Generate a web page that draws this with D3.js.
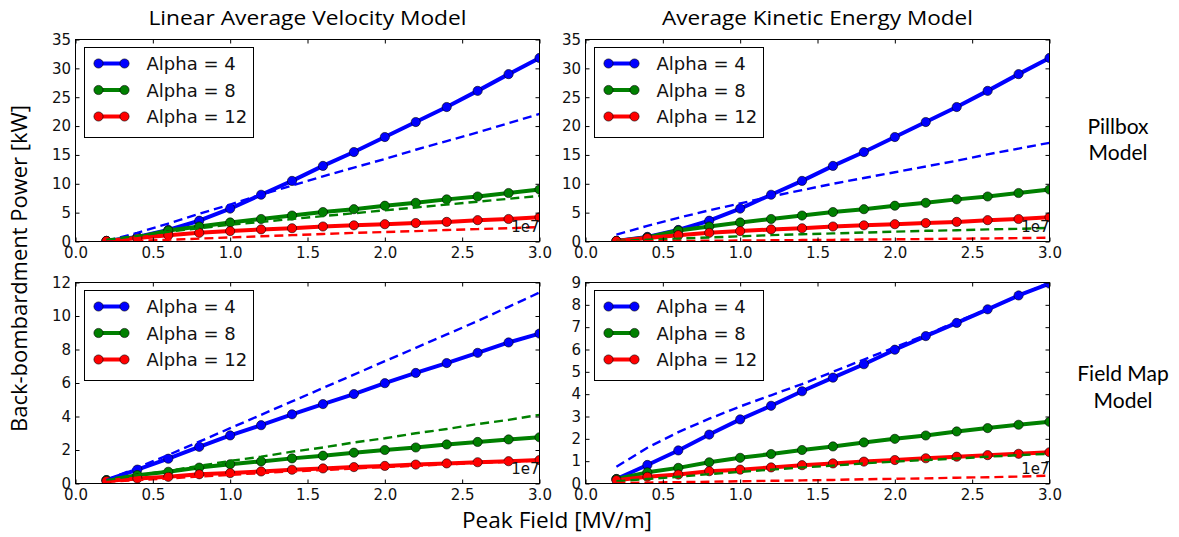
<!DOCTYPE html>
<html><head><meta charset="utf-8">
<script src="https://cdn.jsdelivr.net/npm/d3@7/dist/d3.min.js"></script>
<style>body{margin:0;background:#fff}svg{display:block}</style>
</head><body>
<svg id="chart" width="1179" height="537"></svg>
<script>
// ---------------- DATA ----------------
const peakField = [0.2,0.4,0.6,0.8,1.0,1.2,1.4,1.6,1.8,2.0,2.2,2.4,2.6,2.8,3.0]; // x 1e7 V/m
const xTickValues = [0.0,0.5,1.0,1.5,2.0,2.5,3.0];
const xTickLabels = ["0.0","0.5","1.0","1.5","2.0","2.5","3.0"];
const yTicksPillbox = [0,5,10,15,20,25,30,35];
const yTicksMapLinear = [0,2,4,6,8,10,12];
const yTicksMapKinetic = [0,1,2,3,4,5,6,7,8,9];
const columnTitles = ["Linear Average Velocity Model","Average Kinetic Energy Model"];
const rowLabels = [["Pillbox","Model"],["Field Map","Model"]];
const legendLabels = ["Alpha = 4","Alpha = 8","Alpha = 12"];
const xAxisLabel = "Peak Field [MV/m]";
const yAxisLabel = "Back-bombardment Power [kW]";
const offsetLabel = "1e7";

// simulated (solid, markers)
const pillboxA4  = [0.1,0.8,2.0,3.6,5.7,8.1,10.5,13.1,15.5,18.1,20.7,23.3,26.1,29.0,31.8];
const pillboxA8  = [0.1,0.7,1.9,2.6,3.3,3.9,4.5,5.1,5.6,6.2,6.7,7.3,7.8,8.4,9.0];
const pillboxA12 = [0.1,0.6,1.1,1.5,1.8,2.1,2.3,2.6,2.8,3.0,3.2,3.4,3.7,3.9,4.2];
const fieldMapA4  = [0.2,0.83,1.48,2.19,2.87,3.48,4.13,4.74,5.34,5.99,6.6,7.19,7.8,8.42,8.95];
const fieldMapA8  = [0.2,0.5,0.7,0.95,1.15,1.32,1.5,1.66,1.84,2.0,2.15,2.33,2.48,2.63,2.76];
const fieldMapA12 = [0.15,0.3,0.4,0.55,0.62,0.72,0.82,0.9,0.98,1.05,1.13,1.2,1.27,1.33,1.4];

// model predictions (dashed)
const linPillA4  = [0.1,1.5,3.1,4.8,6.4,8.1,9.7,11.3,12.8,14.3,15.9,17.4,18.9,20.5,22.1];
const linPillA8  = [0.3,1.0,1.7,2.3,2.9,3.4,3.9,4.4,4.9,5.4,5.9,6.4,6.9,7.4,7.9];
const linPillA12 = [0.0,0.1,0.3,0.5,0.7,0.9,1.1,1.3,1.5,1.65,1.8,2.0,2.15,2.3,2.5];
const kinPillA4  = [1.2,2.7,4.1,5.4,6.6,7.8,8.9,10.0,11.0,12.0,13.0,14.0,15.1,16.1,17.1];
const kinPillA8  = [0.1,0.3,0.5,0.7,0.9,1.1,1.25,1.4,1.55,1.7,1.85,1.95,2.1,2.2,2.35];
const kinPillA12 = [0.02,0.05,0.09,0.13,0.17,0.21,0.25,0.29,0.34,0.38,0.43,0.48,0.53,0.59,0.65];
const linMapA4  = [0.2,0.95,1.7,2.5,3.3,4.1,4.9,5.7,6.5,7.3,8.1,8.9,9.7,10.55,11.4];
const linMapA8  = [0.2,0.5,0.75,1.05,1.35,1.6,1.9,2.15,2.45,2.7,3.0,3.25,3.55,3.8,4.1];
const linMapA12 = [0.1,0.2,0.3,0.42,0.52,0.62,0.72,0.8,0.9,0.98,1.06,1.14,1.22,1.3,1.37];
const kinMapA4  = [0.75,1.6,2.3,2.9,3.45,3.95,4.45,5.0,5.55,6.1,6.65,7.25,7.8,8.4,9.0];
const kinMapA8  = [0.1,0.2,0.3,0.42,0.52,0.62,0.72,0.8,0.9,0.98,1.05,1.12,1.2,1.27,1.33];
const kinMapA12 = [0.02,0.04,0.06,0.08,0.1,0.12,0.14,0.16,0.19,0.21,0.23,0.26,0.28,0.31,0.35];

// ---------------- STYLE / LAYOUT ----------------
const seriesColors = ["#0000ff","#008000","#ff0000"];
const colX = [[75.5,539.5],[585.5,1049.5]];
const rowY = [[39.5,241.5],[282.5,483.5]];
const tickFont = "'DejaVu Sans', sans-serif";
const titleFont = "'Open Sans', sans-serif";
const rowFont = "Lato, 'Open Sans', sans-serif";

const panels = [
  {row:0,col:0,yMax:35,yTicks:yTicksPillbox,solid:[pillboxA4,pillboxA8,pillboxA12],dashed:[linPillA4,linPillA8,linPillA12]},
  {row:0,col:1,yMax:35,yTicks:yTicksPillbox,solid:[pillboxA4,pillboxA8,pillboxA12],dashed:[kinPillA4,kinPillA8,kinPillA12]},
  {row:1,col:0,yMax:12,yTicks:yTicksMapLinear,solid:[fieldMapA4,fieldMapA8,fieldMapA12],dashed:[linMapA4,linMapA8,linMapA12]},
  {row:1,col:1,yMax:9,yTicks:yTicksMapKinetic,solid:[fieldMapA4,fieldMapA8,fieldMapA12],dashed:[kinMapA4,kinMapA8,kinMapA12]}
];

const svg = d3.select("#chart");
const defs = svg.append("defs");

panels.forEach((p,i)=>{
  const [x0,x1] = colX[p.col], [y0,y1] = rowY[p.row];
  const x = d3.scaleLinear().domain([0,3]).range([x0,x1]);
  const y = d3.scaleLinear().domain([0,p.yMax]).range([y1,y0]);
  const g = svg.append("g");

  defs.append("clipPath").attr("id","clip"+i).append("rect")
    .attr("x",x0).attr("y",y0).attr("width",x1-x0).attr("height",y1-y0);

  const plot = g.append("g").attr("clip-path",`url(#clip${i})`);
  const line = d3.line().x((d,j)=>x(peakField[j])).y(d=>y(d));

  p.solid.forEach((s,k)=>{
    plot.append("path").datum(s).attr("d",line)
      .attr("fill","none").attr("stroke",seriesColors[k]).attr("stroke-width",4)
      .attr("stroke-linejoin","round");
    plot.selectAll(null).data(s).enter().append("circle")
      .attr("cx",(d,j)=>x(peakField[j])).attr("cy",d=>y(d)).attr("r",4.6)
      .attr("fill",seriesColors[k]).attr("stroke","#000").attr("stroke-width",0.6);
  });
  p.dashed.forEach((s,k)=>{
    plot.append("path").datum(s).attr("d",line)
      .attr("fill","none").attr("stroke",seriesColors[k]).attr("stroke-width",2.4)
      .attr("stroke-dasharray","9,5");
  });

  // axes (ticks inward on all sides)
  const tl = 4;
  const bottomAx = d3.axisBottom(x).tickValues(xTickValues).tickFormat((d,j)=>xTickLabels[j]).tickSizeInner(-tl).tickSizeOuter(0).tickPadding(6);
  const topAx = d3.axisTop(x).tickValues(xTickValues).tickFormat("").tickSizeInner(-tl).tickSizeOuter(0);
  const leftAx = d3.axisLeft(y).tickValues(p.yTicks).tickFormat(d3.format("d")).tickSizeInner(-tl).tickSizeOuter(0).tickPadding(4.5);
  const rightAx = d3.axisRight(y).tickValues(p.yTicks).tickFormat("").tickSizeInner(-tl).tickSizeOuter(0);
  const axes = [
    g.append("g").attr("transform",`translate(0,${y1})`).call(bottomAx),
    g.append("g").attr("transform",`translate(0,${y0})`).call(topAx),
    g.append("g").attr("transform",`translate(${x0},0)`).call(leftAx),
    g.append("g").attr("transform",`translate(${x1},0)`).call(rightAx)
  ];
  axes.forEach(a=>{
    a.select(".domain").remove();
    a.selectAll("line").attr("stroke","#000").attr("stroke-width",1);
    a.selectAll("text").attr("font-family",tickFont).attr("font-size",15).attr("fill","#111");
  });

  g.append("rect").attr("x",x0).attr("y",y0).attr("width",x1-x0).attr("height",y1-y0)
    .attr("fill","none").attr("stroke","#000").attr("stroke-width",1);

  // offset text
  g.append("text").attr("x",x1).attr("y",y1-9.5).attr("text-anchor","end")
    .attr("font-family",tickFont).attr("font-size",15).attr("fill","#111").text(offsetLabel);

  // legend
  const lx = x0+9, ly = y0+8;
  const lg = g.append("g").attr("transform",`translate(${lx},${ly})`);
  lg.append("rect").attr("x",0).attr("y",0).attr("width",169).attr("height",90)
    .attr("fill","#fff").attr("stroke","#000").attr("stroke-width",1);
  legendLabels.forEach((lab,k)=>{
    const yy = 16 + k*26.5;
    lg.append("line").attr("x1",14).attr("x2",40).attr("y1",yy).attr("y2",yy)
      .attr("stroke",seriesColors[k]).attr("stroke-width",4);
    [14,40].forEach(cx=>lg.append("circle").attr("cx",cx).attr("cy",yy).attr("r",4.6)
      .attr("fill",seriesColors[k]).attr("stroke","#000").attr("stroke-width",0.6));
    lg.append("text").attr("x",62).attr("y",yy+6.5).attr("font-family",tickFont)
      .attr("font-size",18).attr("fill","#111").text(lab);
  });
});

// column titles
const titleWidths = [318,311];
columnTitles.forEach((t,c)=>{
  svg.append("text").attr("x",(colX[c][0]+colX[c][1])/2).attr("y",25)
    .attr("text-anchor","middle").attr("font-family",titleFont).attr("font-size",20.5)
    .attr("textLength",titleWidths[c]).attr("lengthAdjust","spacingAndGlyphs")
    .attr("fill","#000").text(t);
});
// row labels
const rowBaselines = [133.5,381];
const rowCenters = [1118,1123];
rowLabels.forEach((lines,r)=>{
  lines.forEach((l,k)=>{
    svg.append("text").attr("x",rowCenters[r]).attr("y",rowBaselines[r] + k*26.5)
      .attr("text-anchor","middle").attr("font-family",rowFont).attr("font-size",21)
      .attr("fill","#000").text(l);
  });
});
// axis labels
svg.append("text").attr("x",557).attr("y",528).attr("text-anchor","middle")
  .attr("font-family",titleFont).attr("font-size",21)
  .attr("textLength",190).attr("lengthAdjust","spacingAndGlyphs")
  .attr("fill","#000").text(xAxisLabel);
svg.append("text").attr("transform","translate(27,268.5) rotate(-90)").attr("text-anchor","middle")
  .attr("font-family",titleFont).attr("font-size",21.5)
  .attr("textLength",327).attr("lengthAdjust","spacingAndGlyphs")
  .attr("fill","#000").text(yAxisLabel);
</script>
</body></html>
